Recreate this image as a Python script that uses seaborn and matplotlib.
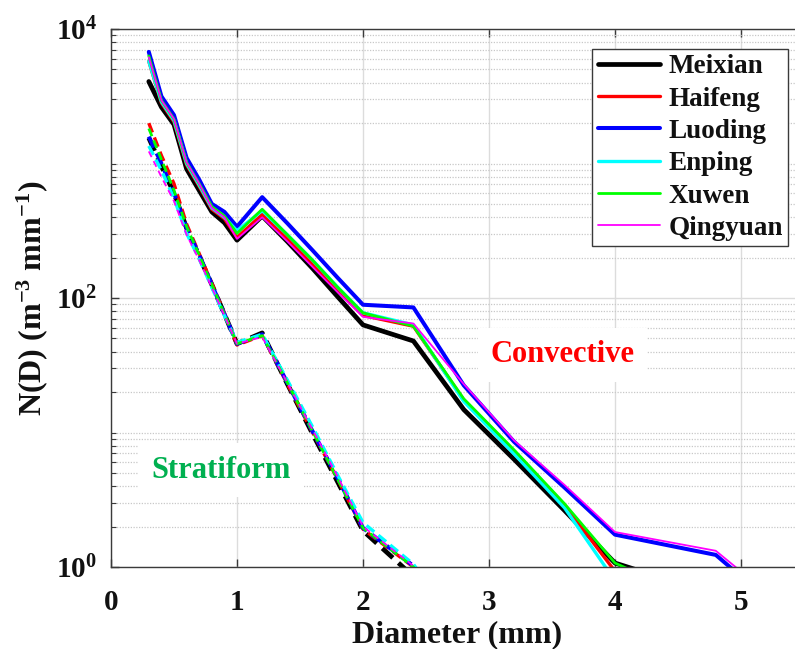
import numpy as np
import pandas as pd
import matplotlib
matplotlib.use("Agg")
import matplotlib.pyplot as plt
from matplotlib.ticker import FixedLocator, NullFormatter, LogFormatterMathtext
import seaborn as sns

# Drop diameters (mm)
diam_conv = [0.3, 0.4, 0.5, 0.6, 0.7, 0.8, 0.9, 1.0, 1.2, 1.4, 1.6, 1.8, 2.0,
             2.4, 2.8, 3.2, 3.6, 4.0, 4.8, 5.6]
diam_strat = [0.3, 0.4, 0.5, 0.6, 0.7, 0.8, 0.9, 1.0, 1.2, 1.4, 1.6, 1.8, 2.0,
              2.4, 2.8]

stations = ["Meixian", "Haifeng", "Luoding", "Enping", "Xuwen", "Qingyuan"]

# Convective mean DSD, N(D) in m^-3 mm^-1
conv_meixian = [4070, 2630, 1950, 912, 631, 437, 363, 269, 407, 263, 166, 102,
                63.1, 47.9, 14.8, 6.31, 2.63, 1.07, 0.62, 0.13]
conv_haifeng = [5750, 2820, 2040, 977, 676, 457, 389, 282, 417, 275, 178, 115,
                74.1, 61.7, 17.4, 7.24, 2.88, 0.93, 0.25, 0.063]
conv_luoding = [6760, 3160, 2290, 1100, 759, 501, 437, 339, 562, 359, 226, 141,
                89.1, 85.1, 22.4, 8.51, 3.89, 1.74, 1.23, 0.28]
conv_enping = [5750, 2880, 2090, 1000, 692, 468, 398, 316, 447, 295, 191, 120,
               77.6, 63.1, 17.0, 6.92, 2.75, 0.79, 0.20, 0.05]
conv_xuwen = [6310, 2950, 2140, 1020, 708, 479, 407, 302, 457, 295, 191, 120,
              77.6, 61.7, 17.8, 7.41, 2.95, 1.07, 0.49, 0.13]
conv_qingyuan = [6170, 2950, 2140, 1020, 708, 468, 398, 275, 398, 263, 170, 110,
                 72.4, 64.6, 22.9, 8.71, 4.07, 1.82, 1.32, 0.32]

# Stratiform mean DSD, N(D) in m^-3 mm^-1
strat_meixian = [1549, 955, 603, 331, 204, 126, 75.9, 45.7, 55.0, 22.9, 9.77,
                 4.27, 1.86, 0.85, 0.25]
strat_haifeng = [1995, 1148, 708, 355, 214, 129, 77.6, 44.7, 52.5, 22.9, 10.0,
                 4.47, 1.91, 1.0, 0.32]
strat_luoding = [1585, 1000, 603, 331, 209, 126, 75.9, 45.7, 53.7, 23.4, 10.2,
                 4.57, 1.95, 1.02, 0.32]
strat_enping = [1349, 891, 550, 302, 195, 120, 74.1, 46.8, 53.7, 24.5, 11.0,
                4.79, 2.14, 1.05, 0.32]
strat_xuwen = [1820, 1072, 631, 339, 209, 126, 75.9, 45.7, 52.5, 23.4, 10.2,
               4.47, 1.95, 1.0, 0.32]
strat_qingyuan = [1230, 794, 525, 295, 191, 120, 74.1, 45.7, 51.3, 23.4, 10.5,
                  4.68, 2.0, 1.02, 0.32]

conv_values = [conv_meixian, conv_haifeng, conv_luoding, conv_enping,
               conv_xuwen, conv_qingyuan]
strat_values = [strat_meixian, strat_haifeng, strat_luoding, strat_enping,
                strat_xuwen, strat_qingyuan]

colors = ["#000000", "#FF0000", "#0000FF", "#00FFFF", "#00FF00", "#FF00FF"]
widths = [3.4, 2.4, 2.9, 2.4, 2.0, 1.3]
strat_dashes = [(3.0, 1.6), (3.0, 1.6), (3.0, 1.6), (3.0, 1.6), (3.0, 1.6), (3.5, 2.5)]

sns.set_theme(style="white")
plt.rcParams["font.family"] = ["Liberation Serif", "DejaVu Serif"]
plt.rcParams["font.weight"] = "bold"
plt.rcParams["axes.labelweight"] = "bold"
plt.rcParams["mathtext.fontset"] = "custom"
plt.rcParams["mathtext.rm"] = "Liberation Serif:bold"
plt.rcParams["mathtext.it"] = "Liberation Serif:bold"
plt.rcParams["mathtext.bf"] = "Liberation Serif:bold"
plt.rcParams["mathtext.default"] = "rm"

conv_df = pd.concat(
    [pd.DataFrame({"D": diam_conv, "N": v, "station": s})
     for s, v in zip(stations, conv_values)], ignore_index=True)
strat_df = pd.concat(
    [pd.DataFrame({"D": diam_strat, "N": v, "station": s})
     for s, v in zip(stations, strat_values)], ignore_index=True)

fig = plt.figure(figsize=(7.95, 6.49), dpi=100)
ax = fig.add_axes([111 / 795, 82 / 649, 693 / 795, 538 / 649])
ax.set_yscale("log")

for s, c, w, dsh in zip(stations, colors, widths, strat_dashes):
    sub = strat_df[strat_df["station"] == s]
    sns.lineplot(data=sub, x="D", y="N", ax=ax, color=c, lw=w,
                 dashes=False, sort=False, estimator=None, legend=False)
    ax.lines[-1].set_dashes(dsh)

for s, c, w in zip(stations, colors, widths):
    sub = conv_df[conv_df["station"] == s]
    sns.lineplot(data=sub, x="D", y="N", ax=ax, color=c, lw=w,
                 sort=False, estimator=None, label=s)

ax.set_xlim(0, 5.5)
ax.set_ylim(1, 1e4)

ax.xaxis.set_major_locator(FixedLocator([0, 1, 2, 3, 4, 5]))
ax.yaxis.set_major_locator(FixedLocator([1, 100, 10000]))
ax.yaxis.set_major_formatter(LogFormatterMathtext())
minor_y = [m * 10 ** e for e in range(0, 4) for m in range(2, 10)] + [10, 1000]
ax.yaxis.set_minor_locator(FixedLocator(sorted(minor_y)))
ax.yaxis.set_minor_formatter(NullFormatter())

ax.grid(which="major", color="#dcdcdc", lw=1.0, ls="-")
ax.grid(which="minor", axis="y", color="#c8c8c8", lw=0.9, ls=(0, (1, 1.2)))
ax.set_axisbelow(True)

for side in ["left", "bottom", "top", "right"]:
    ax.spines[side].set_color("#3a3a3a")
    ax.spines[side].set_linewidth(1.0)

ax.tick_params(axis="both", which="major", direction="in", length=6,
               width=1.0, color="#3a3a3a", top=True, left=True, bottom=True,
               labelsize=21, labelcolor="#111111")
ax.tick_params(axis="x", which="major", pad=16)
ax.tick_params(axis="y", which="major", pad=10)
ax.tick_params(axis="y", which="minor", direction="in", length=3.5,
               width=0.8, color="#3a3a3a", left=True)

ax.set_xlabel("Diameter (mm)", fontsize=23, fontweight="bold", labelpad=3,
              color="#111111")
ax.set_ylabel(r"N(D) (m$^{-3}$ mm$^{-1}$)", fontsize=23, fontweight="bold",
              labelpad=4, color="#111111")

ax.text(3.58, 37.7, "Convective", color="#FF0000", fontsize=22,
        fontweight="bold", ha="center", va="center",
        bbox=dict(facecolor="white", edgecolor="none", pad=9))
ax.text(0.873, 5.26, "Stratiform", color="#00B050", fontsize=22,
        fontweight="bold", ha="center", va="center",
        bbox=dict(facecolor="white", edgecolor="none", pad=9))

leg = ax.legend(loc="upper right", bbox_to_anchor=(0.977, 0.963),
                borderaxespad=0, fontsize=19.5, frameon=True, fancybox=False,
                framealpha=1, edgecolor="#3a3a3a", handlelength=2.3,
                handletextpad=0.3, labelspacing=0.27, borderpad=0.2)
leg.get_frame().set_linewidth(1.0)
for t in leg.get_texts():
    t.set_fontweight("bold")
    t.set_color("#111111")

fig.savefig("out.png", dpi=100)
